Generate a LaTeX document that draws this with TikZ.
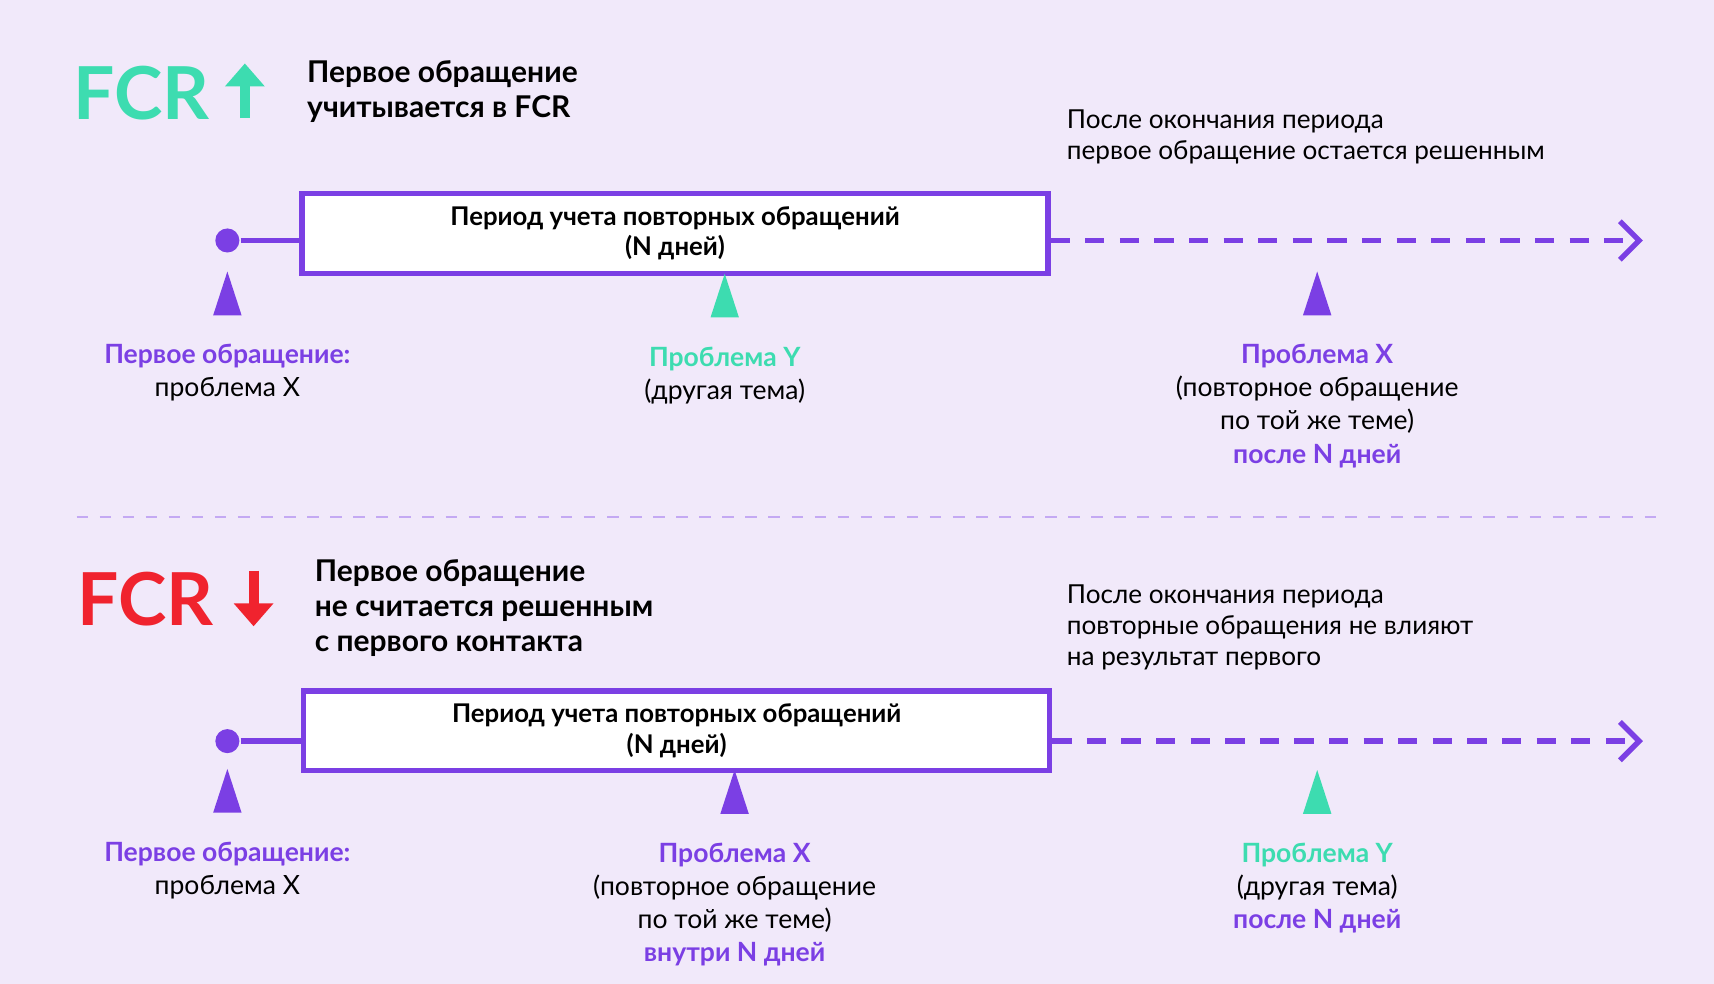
\documentclass[tikz,border=0pt]{standalone}
\usepackage{fontspec}
\setmainfont{Lato}
\usetikzlibrary{arrows.meta,positioning,shapes.geometric}
\definecolor{bgc}{HTML}{F1E9FA}
\definecolor{purp}{HTML}{7B3FE4}
\definecolor{teal}{HTML}{3DDCB0}
\definecolor{redc}{HTML}{F0232E}

\begin{document}
\begin{tikzpicture}[x=0.01cm, y=-0.01cm, semithick]
  \tikzstyle{title} = [font=\fontsize{19}{19}\selectfont\bfseries, inner sep=0pt, anchor=west]
  \tikzstyle{note} = [font=\fontsize{7.8}{9.1}\selectfont\bfseries, align=left, anchor=north west, inner sep=0pt]
  \tikzstyle{side} = [font=\fontsize{6.8}{8.1}\selectfont, align=left, anchor=north west, inner sep=0pt]
  \tikzstyle{period} = [draw=purp, line width=1.4pt, fill=white, minimum width=6.82cm, minimum height=0.73cm,
    font=\fontsize{6.7}{8}\selectfont\bfseries, align=center, inner sep=0pt]
  \tikzstyle{label} = [font=\fontsize{6.9}{8.6}\selectfont, align=center, anchor=north, inner sep=0pt]
  \tikzstyle{hit} = [isosceles triangle, shape border rotate=90, isosceles triangle apex angle=36,
    minimum height=0.4cm, inner sep=0pt, draw=none]
  \tikzstyle{dot} = [circle, fill=purp, minimum size=0.22cm, inner sep=0pt]
  \tikzstyle{line} = [draw=purp, line width=1.4pt]
  \tikzstyle{later} = [draw=purp, line width=1.4pt, dash pattern=on 5pt off 4pt, -{Straight Barb[length=5pt,width=10pt]}]
  \tikzstyle{trend} = [line width=2.6pt, -{Triangle[length=6pt,width=10pt]}]

  \fill[bgc] (0,0) rectangle (1568,900);

  % Top part
  \node[title, text=teal] (fcr1) at (66,85) {FCR};
  \draw[trend, teal] (224,108) -- (224,58);
  \node[note] (n1) at (280,54) {Первое обращение\\учитывается в FCR};
  \node[side] (s1) at (975,99) {После окончания периода\\первое обращение остается решенным};

  \node[dot] (d1) at (208,220) {};
  \node[period] (p1) at (617.5,213.5) {Период учета повторных обращений\\(N дней)};
  \coordinate (e1) at (1503,220);
  \draw[line] (d1) -- (p1.west |- d1);
  \draw[later] (p1.east |- d1) -- (e1);

  \node[hit, fill=purp] (t11) at (208,279) {};
  \node[hit, fill=teal] (t12) at (663,281) {};
  \node[hit, fill=purp] (t13) at (1205,279) {};
  \node[label, below=7pt of t11] (l11) {\textcolor{purp}{\bfseries Первое обращение:}\\проблема X};
  \node[label, below=7pt of t12] (l12) {\textcolor{teal}{\bfseries Проблема Y}\\(другая тема)};
  \node[label, below=7pt of t13] (l13) {\textcolor{purp}{\bfseries Проблема X}\\(повторное обращение\\по той же теме)\\\textcolor{purp}{\bfseries после N дней}};

  % Separator
  \coordinate (sa) at (70,473);
  \coordinate (sb) at (1515,473);
  \draw[purp!45, dashed, thin] (sa) -- (sb);

  % Bottom part
  \node[title, text=redc] (fcr2) at (70,548) {FCR};
  \draw[trend, redc] (232,522) -- (232,573);
  \node[note] (n2) at (287,511) {Первое обращение\\не считается решенным\\с первого контакта};
  \node[side] (s2) at (975,534) {После окончания периода\\повторные обращения не влияют\\на результат первого};

  \node[dot] (d2) at (208,678) {};
  \node[period] (p2) at (619,668.5) {Период учета повторных обращений\\(N дней)};
  \coordinate (e2) at (1503,678);
  \draw[line] (d2) -- (p2.west |- d2);
  \draw[later] (p2.east |- d2) -- (e2);

  \node[hit, fill=purp] (t21) at (208,734) {};
  \node[hit, fill=purp] (t22) at (672,735) {};
  \node[hit, fill=teal] (t23) at (1205,735) {};
  \node[label, below=7pt of t21] (l21) {\textcolor{purp}{\bfseries Первое обращение:}\\проблема X};
  \node[label, below=7pt of t22] (l22) {\textcolor{purp}{\bfseries Проблема X}\\(повторное обращение\\по той же теме)\\\textcolor{purp}{\bfseries внутри N дней}};
  \node[label, below=7pt of t23] (l23) {\textcolor{teal}{\bfseries Проблема Y}\\(другая тема)\\\textcolor{purp}{\bfseries после N дней}};
\end{tikzpicture}
\end{document}
